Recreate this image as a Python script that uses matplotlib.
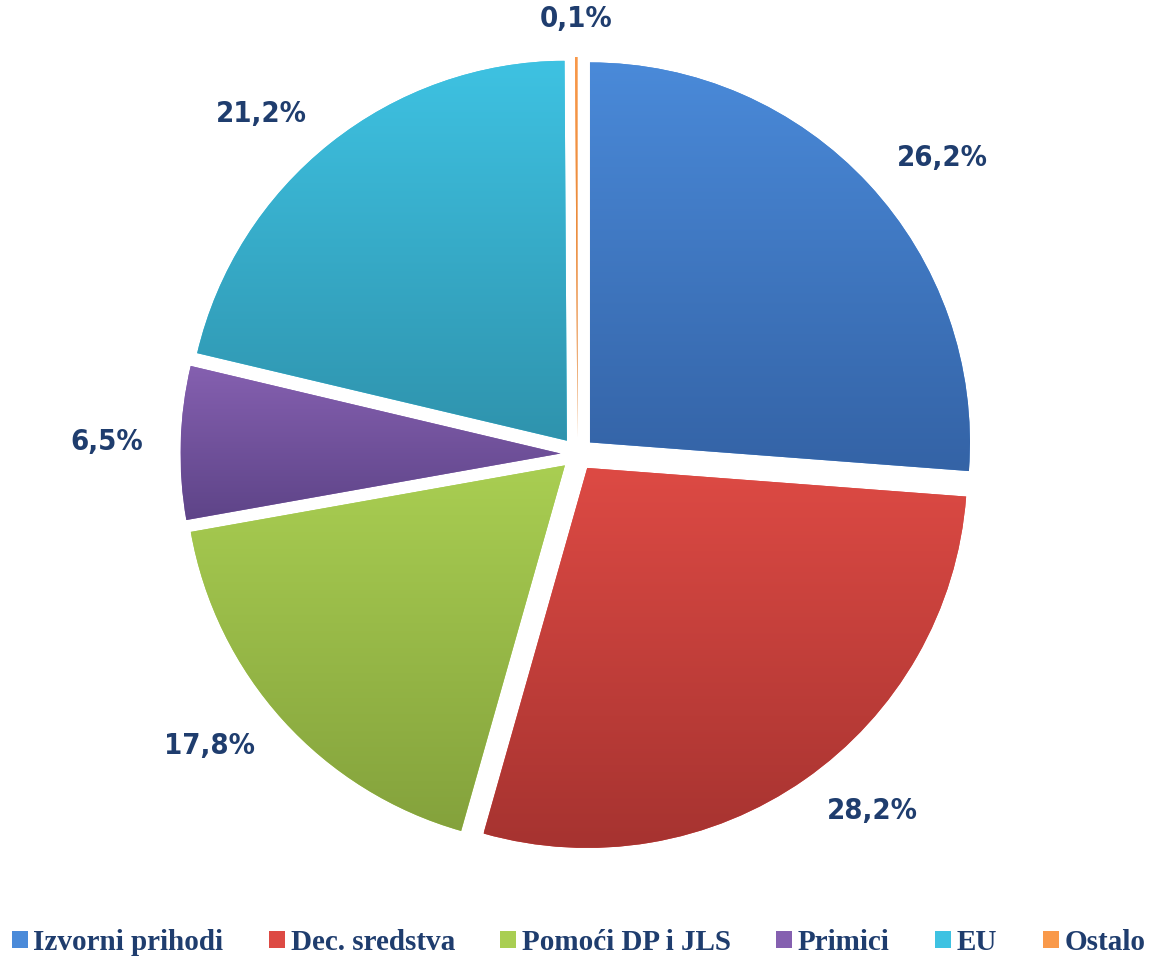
import numpy as np
import matplotlib
matplotlib.use("Agg")
from matplotlib import pyplot as plt
from matplotlib.colors import to_rgb
from matplotlib.patches import Patch

labels = ["Izvorni prihodi", "Dec. sredstva", "Pomoći DP i JLS", "Primici", "EU", "Ostalo"]
values = [26.2, 28.2, 17.8, 6.5, 21.2, 0.1]
pct_text = ["26,2%", "28,2%", "17,8%", "6,5%", "21,2%", "0,1%"]
top_colors = ["#4a8ad9", "#dd4a44", "#a9ce52", "#8560b0", "#3ec2e2", "#f9994a"]
bottom_colors = ["#3463a6", "#a63330", "#84a23c", "#5e4488", "#2f93ad", "#d77a2a"]

text_col = "#1f3d6e"

fig = plt.figure(figsize=(11.57, 9.61), dpi=100)
ax = fig.add_axes([0, 0, 1, 1])
ax.set_axis_off()

cx, cy, r = 577.5, 961 - 454, 380
wedges, texts = ax.pie(values, labels=pct_text, startangle=90, counterclock=False,
                       radius=r, center=(cx, cy), explode=[17] * len(values),
                       labeldistance=1.1,
                       colors=top_colors,
                       wedgeprops=dict(linewidth=0),
                       textprops=dict(fontsize=21, fontweight="bold", color=text_col,
                                      family="DejaVu Sans", fontstretch="condensed"))

# alignment by side of the pie (pie() uses absolute x when center is moved)
for w, t in zip(wedges, texts):
    mid = np.deg2rad((w.theta1 + w.theta2) / 2)
    if abs(np.cos(mid)) < 0.05:
        t.set_horizontalalignment("center")
    elif np.cos(mid) > 0:
        t.set_horizontalalignment("left")
    else:
        t.set_horizontalalignment("right")

# vertical gradient inside each wedge
for w, c1, c2 in zip(wedges, top_colors, bottom_colors):
    bb = w.get_path().get_extents(w.get_patch_transform())
    a = np.array(to_rgb(c1))
    b = np.array(to_rgb(c2))
    f = np.linspace(0, 1, 256)[:, None]
    img = (a * (1 - f) + b * f)[:, None, :]
    im = ax.imshow(img, extent=[bb.x0, bb.x1, bb.y0, bb.y1], origin="upper",
                   aspect="auto", zorder=2, interpolation="bilinear")
    im.set_clip_path(w)

ax.set_xlim(0, 1157)
ax.set_ylim(0, 961)
ax.set_aspect("equal")

handles = [Patch(facecolor=c, edgecolor="none") for c in top_colors]
ax.legend(handles, labels, loc="lower center", bbox_to_anchor=(0.5, -0.022), ncol=6,
          frameon=False, handlelength=0.55, handleheight=0.55, handletextpad=0.2,
          columnspacing=1.55,
          prop=dict(family="Liberation Serif", weight="bold", size=21),
          labelcolor=text_col)

fig.savefig("out.png", dpi=100)
